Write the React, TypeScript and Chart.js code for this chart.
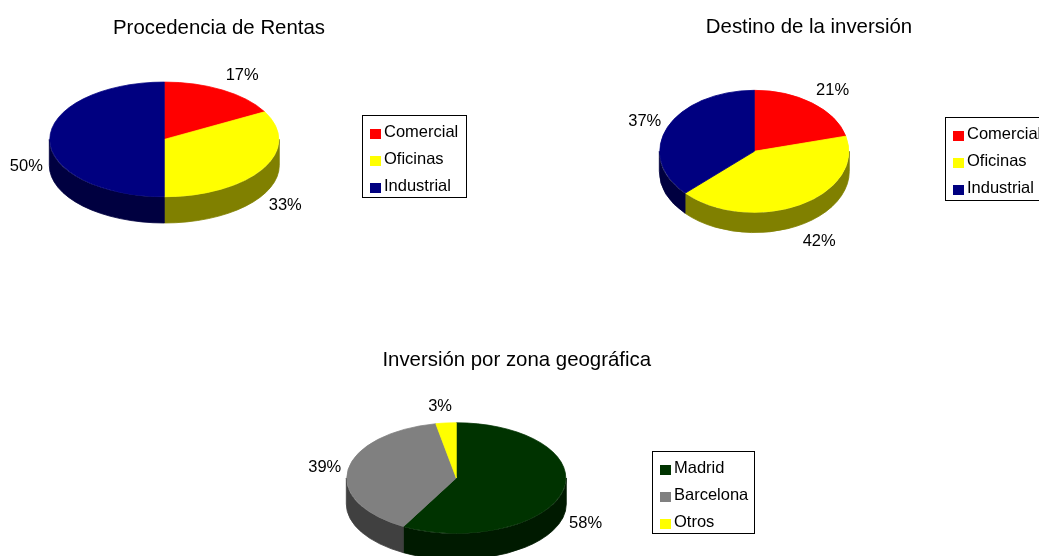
import React, { useEffect, useRef } from "react";
import { Chart, registerables } from "chart.js";

Chart.register(...registerables);

const W = 1039;
const H = 556;
const FONT = "'Liberation Sans', Arial, 'DejaVu Sans', sans-serif";

// ---- Data ----
const rentasTitle = "Procedencia de Rentas";
const rentasLabels = ["Comercial", "Oficinas", "Industrial"];
const rentasValues = [17, 33, 50];
const rentasColors = ["#FF0000", "#FFFF00", "#000080"];

const destinoTitle = "Destino de la inversión";
const destinoLabels = ["Comercial", "Oficinas", "Industrial"];
const destinoValues = [21, 42, 37];
const destinoColors = ["#FF0000", "#FFFF00", "#000080"];

const zonaTitle = "Inversión por zona geográfica";
const zonaLabels = ["Madrid", "Barcelona", "Otros"];
const zonaValues = [58, 39, 3];
const zonaColors = ["#003300", "#808080", "#FFFF00"];

// ---- Layout (positions / sizes) ----
type Layout = {
  cx: number; cy: number; rx: number; ry: number; depth: number;
  titleX: number; titleY: number;
  legX: number; legY: number; legW: number; legH: number;
};

const layoutRentas: Layout = {
  cx: 164.3, cy: 139.4, rx: 115, ry: 57.6, depth: 26,
  titleX: 219, titleY: 34,
  legX: 362, legY: 115, legW: 104, legH: 82,
};
const layoutDestino: Layout = {
  cx: 754.3, cy: 151.3, rx: 95, ry: 61.3, depth: 20,
  titleX: 809, titleY: 32.5,
  legX: 945, legY: 117, legW: 104, legH: 83,
};
const layoutZona: Layout = {
  cx: 456.3, cy: 478, rx: 110, ry: 55.5, depth: 26,
  titleX: 516.7, titleY: 366,
  legX: 652, legY: 451, legW: 102, legH: 82,
};

const Y0 = H / 2;
const TITLE_PX = 20.4;
const TEXT_PX = 16.5;

function darken(hex: string): string {
  const n = parseInt(hex.slice(1), 16);
  const r = Math.round(((n >> 16) & 255) / 2);
  const g = Math.round(((n >> 8) & 255) / 2);
  const b = Math.round((n & 255) / 2);
  return `rgb(${r},${g},${b})`;
}

const pie3d = {
  id: "pie3d",
  beforeDatasetsDraw(chart: any, _args: any, opts: any) {
    const L: Layout = opts.layout;
    const ctx = chart.ctx as CanvasRenderingContext2D;
    const meta = chart.getDatasetMeta(0);
    const colors: string[] = opts.colors;
    ctx.save();
    meta.data.forEach((arc: any, i: number) => {
      const p = arc.getProps(["startAngle", "endAngle", "outerRadius", "x"], true);
      const bw = (arc.options && arc.options.borderWidth) || 0;
      const R = p.outerRadius + bw / 2;
      const k = L.ry / L.rx;
      const ryPx = R * k;
      const a1 = Math.max(p.startAngle, 0);
      const a2 = Math.min(p.endAngle, Math.PI);
      if (a2 > a1) {
        const side = darken(colors[i]);
        ctx.beginPath();
        ctx.ellipse(p.x, L.cy, R, ryPx, 0, a1, a2);
        ctx.ellipse(p.x, L.cy + L.depth, R, ryPx, 0, a2, a1, true);
        ctx.closePath();
        ctx.fillStyle = side;
        ctx.strokeStyle = side;
        ctx.lineWidth = 0.8;
        ctx.fill();
        ctx.stroke();
      }
    });
    ctx.restore();
    ctx.save();
    ctx.translate(0, L.cy);
    ctx.scale(1, L.ry / L.rx);
    ctx.translate(0, -Y0);
  },
  afterDatasetsDraw(chart: any) {
    chart.ctx.restore();
  },
  afterDraw(chart: any, _args: any, opts: any) {
    const L: Layout = opts.layout;
    const ctx = chart.ctx as CanvasRenderingContext2D;
    const meta = chart.getDatasetMeta(0);
    const values: number[] = chart.data.datasets[0].data;
    const labels: string[] = chart.data.labels;
    const colors: string[] = opts.colors;
    const total = values.reduce((a, b) => a + b, 0);
    ctx.save();
    ctx.fillStyle = "#000";
    // title
    ctx.font = `${TITLE_PX}px ${FONT}`;
    ctx.textAlign = "center";
    ctx.textBaseline = "alphabetic";
    ctx.fillText(opts.title, L.titleX, L.titleY);
    // percentage labels (outside end, Excel-like placement)
    ctx.font = `${TEXT_PX}px ${FONT}`;
    meta.data.forEach((arc: any, i: number) => {
      const p = arc.getProps(["startAngle", "endAngle", "outerRadius", "x"], true);
      const mid = (p.startAngle + p.endAngle) / 2;
      const c = Math.cos(mid);
      const s = Math.sin(mid);
      const R = p.outerRadius;
      const ryPx = R * (L.ry / L.rx);
      const txt = Math.round((values[i] / total) * 100) + "%";
      const tw = ctx.measureText(txt).width;
      const ex = p.x + R * c;
      const ey = L.cy + ryPx * s + (s >= -1e-6 ? L.depth : 0);
      const hx = Math.max(-1, Math.min(1, c / 0.2));
      const lx = ex + 8 * c + (tw / 2 - 1) * hx;
      const ly = ey + 18 * s;
      ctx.fillText(txt, lx, ly + 5.9);
    });
    // legend
    ctx.strokeStyle = "#000";
    ctx.lineWidth = 1;
    ctx.strokeRect(L.legX + 0.5, L.legY + 0.5, L.legW, L.legH);
    ctx.textAlign = "left";
    labels.forEach((lab, i) => {
      const base = L.legY + 21.8 + i * 27.3;
      ctx.fillStyle = colors[i];
      ctx.fillRect(Math.round(L.legX + 8), Math.round(base - 8), 11, 10);
      ctx.fillStyle = "#000";
      ctx.fillText(lab, L.legX + 22, base);
    });
    ctx.restore();
  },
};

type PieProps = {
  title: string;
  labels: string[];
  values: number[];
  colors: string[];
  layout: Layout;
};

function Pie3D({ title, labels, values, colors, layout }: PieProps) {
  const ref = useRef<HTMLCanvasElement | null>(null);
  useEffect(() => {
    if (!ref.current) return;
    const L = layout;
    const chart = new Chart(ref.current, {
      type: "pie",
      data: {
        labels,
        datasets: [
          {
            data: values,
            backgroundColor: colors,
            borderColor: colors,
            borderWidth: 1,
            clip: false as any,
          },
        ],
      },
      options: {
        responsive: false,
        animation: false,
        devicePixelRatio: 1,
        events: [],
        layout: {
          padding: {
            left: L.cx - L.rx,
            right: W - L.cx - L.rx,
            top: Y0 - L.rx,
            bottom: H - Y0 - L.rx,
          },
        },
        plugins: {
          legend: { display: false },
          title: { display: false },
          tooltip: { enabled: false },
          pie3d: { layout: L, colors, title },
        } as any,
      },
      plugins: [pie3d as any],
    });
    return () => chart.destroy();
  }, []);
  return (
    <canvas
      ref={ref}
      width={W}
      height={H}
      style={{ position: "absolute", left: 0, top: 0, width: W, height: H }}
    />
  );
}

export default function App() {
  return (
    <div
      style={{
        position: "fixed",
        left: 0,
        top: 0,
        width: W,
        height: H,
        background: "#fff",
        overflow: "hidden",
      }}
    >
      <Pie3D title={rentasTitle} labels={rentasLabels} values={rentasValues} colors={rentasColors} layout={layoutRentas} />
      <Pie3D title={destinoTitle} labels={destinoLabels} values={destinoValues} colors={destinoColors} layout={layoutDestino} />
      <Pie3D title={zonaTitle} labels={zonaLabels} values={zonaValues} colors={zonaColors} layout={layoutZona} />
    </div>
  );
}
